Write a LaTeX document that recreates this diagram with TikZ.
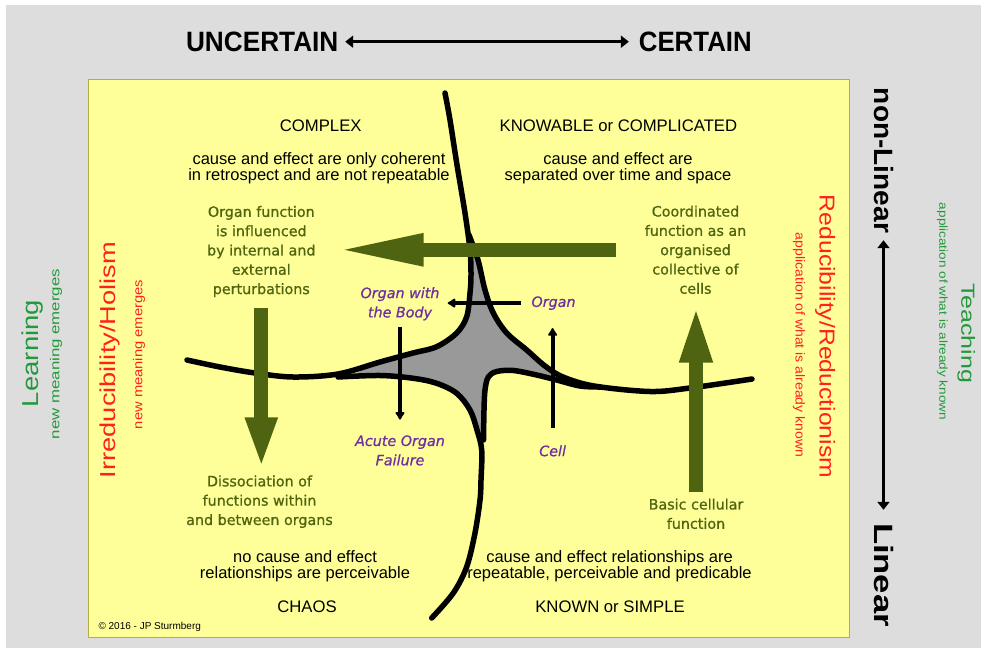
\documentclass[tikz,border=0pt]{standalone}
\usepackage{fontspec}
\usepackage{graphicx}
\setmainfont{Liberation Sans}
\newfontfamily\dvs{DejaVu Sans}[FakeBold=0.9]
\usetikzlibrary{arrows.meta}

\definecolor{bg}{HTML}{DDDDDD}
\definecolor{paper}{HTML}{FFFF99}
\definecolor{paperedge}{HTML}{B5AD4A}
\definecolor{olv}{HTML}{4F6410}
\definecolor{purp}{HTML}{7030A0}
\definecolor{lgreen}{HTML}{22993A}
\definecolor{lred}{HTML}{FF2020}
\definecolor{coregray}{HTML}{999999}

% stretch a single line of text to a given width, keeping its height
\newcommand\fitw[2]{\resizebox{#1}{\height}{#2}}

\begin{document}
\begin{tikzpicture}[x=1pt,y=-1pt,
  hdr/.style={inner sep=0pt, font=\bfseries\fontsize{28}{28}\selectfont},
  side/.style={inner sep=0pt, anchor=base},
  quadtitle/.style={inner sep=0pt, font=\fontsize{16.7}{16}\selectfont},
  quadtext/.style={inner sep=0pt, align=center, font=\fontsize{16.5}{16}\selectfont},
  oltext/.style={inner sep=0pt, align=center, text=olv, font=\dvs\fontsize{14.3}{19.3}\selectfont},
  ptext/.style={inner sep=0pt, align=center, text=purp, font=\dvs\itshape\fontsize{14.3}{19.3}\selectfont},
  curve/.style={line width=5.5pt, line cap=round, line join=round},
  bigarrow/.style={draw=olv, line width=14.3pt, -{Triangle[length=#1, width=29pt]}},
  thinarrow/.style={line width=4pt, -{Latex[length=9pt, width=11.5pt, round]}},
  axisarrow/.style={line width=2.5pt, {Triangle[length=8pt, width=12pt]}-{Triangle[length=8pt, width=12pt]}}
]
\useasboundingbox (0,0) rectangle (981,650);
\fill[white] (0,0) rectangle (981,650);
\fill[bg] (6,5) rectangle (981,648);
\draw[paperedge, fill=paper, line width=1pt] (88,80) rectangle (849,637);

% grey core where the four domains meet
\fill[coregray] plot coordinates {
  (474,250) (480,280) (487,300) (496,317) (508,333) (527,350) (546,366) (565,378) (578,383)
  (556.7,380) (536.7,375) (513,370.5) (497,371.5) (488,377) (485,390) (484,410) (483,435)
  (477,430) (470,410) (456.7,393.3) (436.7,383.3) (413,378.3) (380,375.5) (350,376)
  (380,362) (413,353) (436.7,346.7) (456.7,333) (466.7,316.7) (470,293) (471.5,265)} -- cycle;

% domain boundaries
\draw[curve] plot[smooth, tension=0.55] coordinates {
  (445,93) (450,120) (456.7,163) (465,213) (470,250) (471,275) (470,293) (466.7,316.7)
  (456.7,333) (436.7,346.7) (413,353) (380,362) (338,374) (293,377) (255,373) (220,367) (187,360)};
\draw[curve] plot[smooth, tension=0.55] coordinates {
  (469,235) (478,260) (485,290) (493.3,313) (506.7,333) (526.7,350) (545,366) (563,377)
  (594,386) (650,391.5) (690,388) (752,379)};
\draw[curve] plot[smooth, tension=0.55] coordinates {
  (600,387) (580,386) (556.7,380) (536.7,375) (513.3,370.5) (496.7,371.5) (488.3,377)
  (485,390) (484,410) (483.5,440)};
\draw[curve] plot[smooth, tension=0.55] coordinates {
  (338,377) (380,375.5) (413.3,378.3) (436.7,383.3) (456.7,393.3) (470,410) (477,430)
  (481.7,450) (481,480) (480,500) (475,533) (466.7,566.7) (453.3,593) (431.7,618)};

% header and side axes
\node[hdr] (unc) at (262.2,41.7) {\fitw{152.4pt}{UNCERTAIN}};
\node[hdr] (cer) at (695.3,41.7) {\fitw{112.9pt}{CERTAIN}};
\draw[axisarrow, shorten <=6.6pt, shorten >=9.8pt] (unc) -- (cer);

\node[hdr, side, rotate=-90, font=\bfseries\fontsize{26.5}{26.5}\selectfont] (nonlin) at (874,160.5) {\fitw{145pt}{non-Linear}};
\node[hdr, side, rotate=-90, font=\bfseries\fontsize{26.5}{26.5}\selectfont] (lin) at (874,575) {\fitw{104pt}{Linear}};
\draw[axisarrow, shorten <=7pt, shorten >=13pt] (nonlin.east) -- (lin.west);

\node[side, rotate=90, text=lgreen, font=\fontsize{23}{23}\selectfont] (learning) at (38.5,353.5) {\fitw{107pt}{Learning}};
\node[side, rotate=90, text=lgreen, font=\fontsize{13}{13}\selectfont] (lnew) at (59.3,354) {\fitw{170pt}{new meaning emerges}};
\node[side, rotate=90, text=lred, font=\fontsize{21.6}{21.6}\selectfont] (irred) at (115.5,360) {\fitw{236pt}{Irreducibility/Holism}};
\node[side, rotate=90, text=lred, font=\fontsize{13}{13}\selectfont] (inew) at (142.3,354.5) {\fitw{149pt}{new meaning emerges}};

\node[side, rotate=-90, text=lred, font=\fontsize{21.6}{21.6}\selectfont] (reduc) at (819.5,336.5) {\fitw{283pt}{Reducibility/Reductionism}};
\node[side, rotate=-90, text=lred, font=\fontsize{13}{13}\selectfont] (rapp) at (795.7,345) {\fitw{224pt}{application of what is already known}};
\node[side, rotate=-90, text=lgreen, font=\fontsize{19}{19}\selectfont] (teach) at (961.4,333) {\fitw{100pt}{Teaching}};
\node[side, rotate=-90, text=lgreen, font=\fontsize{11.5}{11.5}\selectfont] (tapp) at (939.3,311.5) {\fitw{217pt}{application of what is already known}};

% quadrant titles and descriptions
\node[quadtitle] (complex) at (320.7,126) {COMPLEX};
\node[quadtitle] (knowable) at (618.4,126) {KNOWABLE or COMPLICATED};
\node[quadtext] (cxdesc) at (319,168.1) {cause and effect are only coherent\\in retrospect and are not repeatable};
\node[quadtext] (kndesc) at (618,168.1) {cause and effect are\\separated over time and space};
\node[quadtext] (chdesc) at (305,566.2) {no cause and effect\\relationships are perceivable};
\node[quadtext] (kwdesc) at (609.5,566.2) {cause and effect relationships are\\repeatable, perceivable and predicable};
\node[quadtitle] (chaos) at (307,607) {CHAOS};
\node[quadtitle] (known) at (610,607) {KNOWN or SIMPLE};

% organ level statements
\node[oltext] (orgfn) at (261.3,251.5) {Organ function\\is influenced\\by internal and\\external\\perturbations};
\node[oltext] (coord) at (695.5,249.8) {Coordinated\\function as an\\organised\\collective of\\cells};
\node[oltext] (dissoc) at (259.5,501.7) {Dissociation of\\functions within\\and between organs};
\node[oltext] (basic) at (696,513.8) {Basic cellular\\function};

\draw[bigarrow=90pt, shorten <=28.7pt, shorten >=18pt] (coord.west) -- (coord.west -| orgfn.east);
\draw[bigarrow=51pt, shorten <=10.4pt, shorten >=7pt] (orgfn.south) -- (orgfn.south |- dissoc.north);
\draw[bigarrow=59pt, shorten <=6pt, shorten >=9.5pt] (basic.north) -- (basic.north |- coord.south);

% levels of organisation
\node[ptext] (owb) at (400,303.8) {Organ with\\the Body};
\node[ptext] (organ) at (553.5,303.1) {Organ};
\node[ptext] (aof) at (400,450.4) {Acute Organ\\Failure};
\node[ptext] (cell) at (552.6,450.8) {Cell};

\draw[thinarrow, shorten <=6.4pt, shorten >=15.5pt] (owb.south) -- (aof.north);
\draw[thinarrow, shorten <=17pt, shorten >=18pt] (cell.north) -- (cell.north |- organ.south);
\draw[thinarrow, shorten <=10pt, shorten >=8pt] (organ.west) -- (organ.west -| owb.east);

\node[anchor=west, inner sep=0pt, font=\fontsize{10}{10}\selectfont] (copy) at (98.3,627.3) {© 2016 - JP Sturmberg};
\end{tikzpicture}
\end{document}
